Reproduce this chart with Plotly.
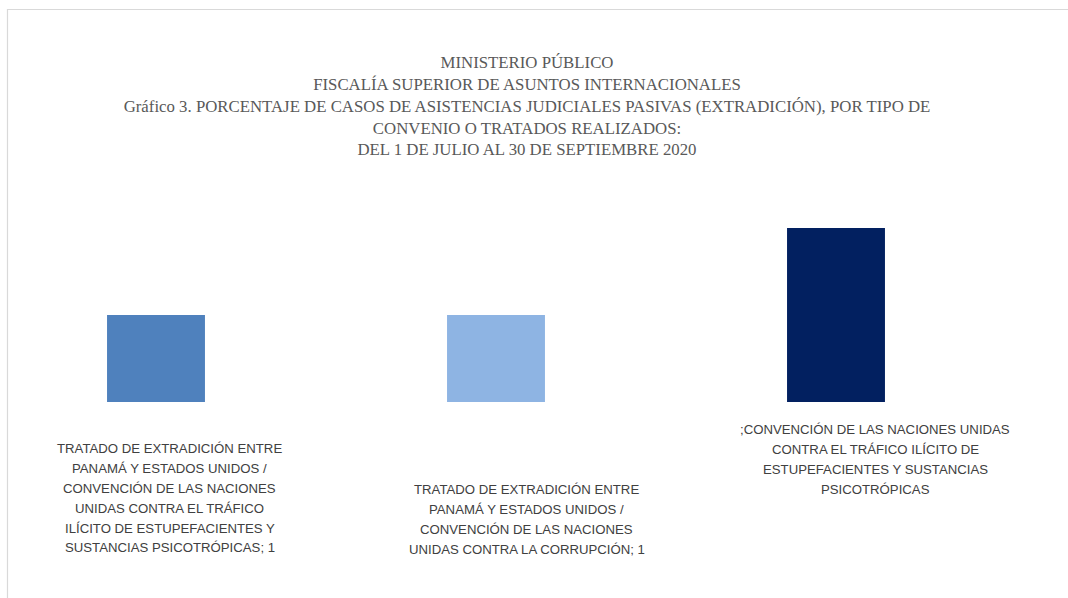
import plotly.graph_objects as go

# ---- data ----
categories = [
    "TRATADO DE EXTRADICIÓN ENTRE PANAMÁ Y ESTADOS UNIDOS / CONVENCIÓN DE LAS NACIONES UNIDAS CONTRA EL TRÁFICO ILÍCITO DE ESTUPEFACIENTES Y SUSTANCIAS PSICOTRÓPICAS",
    "TRATADO DE EXTRADICIÓN ENTRE PANAMÁ Y ESTADOS UNIDOS / CONVENCIÓN DE LAS NACIONES UNIDAS CONTRA LA CORRUPCIÓN",
    "CONVENCIÓN DE LAS NACIONES UNIDAS CONTRA EL TRÁFICO ILÍCITO DE ESTUPEFACIENTES Y SUSTANCIAS PSICOTRÓPICAS",
]
values = [1, 1, 2]
label_lines = [
    ["TRATADO DE EXTRADICIÓN ENTRE", "PANAMÁ Y ESTADOS UNIDOS /", "CONVENCIÓN DE LAS NACIONES",
     "UNIDAS CONTRA EL TRÁFICO", "ILÍCITO DE ESTUPEFACIENTES Y", "SUSTANCIAS PSICOTRÓPICAS; 1"],
    ["TRATADO DE EXTRADICIÓN ENTRE", "PANAMÁ Y ESTADOS UNIDOS /", "CONVENCIÓN DE LAS NACIONES",
     "UNIDAS CONTRA LA CORRUPCIÓN; 1"],
    [";CONVENCIÓN DE LAS NACIONES UNIDAS", "CONTRA EL TRÁFICO ILÍCITO DE",
     "ESTUPEFACIENTES Y SUSTANCIAS", "PSICOTRÓPICAS"],
]
title_lines = [
    "MINISTERIO PÚBLICO",
    "FISCALÍA SUPERIOR DE ASUNTOS INTERNACIONALES",
    "Gráfico 3. PORCENTAJE DE CASOS DE ASISTENCIAS JUDICIALES PASIVAS (EXTRADICIÓN), POR TIPO DE",
    "CONVENIO O TRATADOS REALIZADOS:",
    "DEL 1 DE JULIO AL 30 DE SEPTIEMBRE 2020",
]
bar_colors = ["#4F81BD", "#8EB4E3", "#022060"]

# ---- layout geometry (pixels) ----
W, H = 1068, 598
ML, MR, MT, MB = 20, 40, 190, 196
plot_w = W - ML - MR
plot_h = H - MT - MB
X_RANGE = [-0.4, 2.5647]
Y_RANGE = [0, plot_h / 87.0]
LABEL_LINE_PX = 19.8

x_idx = list(range(len(categories)))

fig = go.Figure()
fig.add_trace(go.Bar(
    x=x_idx, y=values,
    width=0.288,
    marker=dict(color=bar_colors, line=dict(width=0)),
    hovertext=categories,
    hoverinfo="text+y",
))

# data labels positioned (offsets relative to each bar, in data units)
label_dx = [0.041, 0.091, 0.115]
label_dy = [-1.109, -1.351, -0.661]


def data_to_paper_x(xv):
    return (xv - X_RANGE[0]) / (X_RANGE[1] - X_RANGE[0])


def data_to_paper_y(yv):
    return (yv - Y_RANGE[0]) / (Y_RANGE[1] - Y_RANGE[0])


line_step = LABEL_LINE_PX / plot_h
for i, lines in enumerate(label_lines):
    cx = data_to_paper_x(x_idx[i] + label_dx[i])
    cy = data_to_paper_y(label_dy[i])
    n = len(lines)
    for j, line in enumerate(lines):
        fig.add_annotation(
            x=cx, y=cy + ((n - 1) / 2 - j) * line_step,
            xref="paper", yref="paper",
            text=line, showarrow=False, align="center",
            xanchor="center", yanchor="middle",
            font=dict(family="Liberation Sans, Arial, sans-serif", size=13.2, color="#404040"),
        )


# chart-area border (light gray)
def px_to_paper_x(px):
    return (px - ML) / plot_w


def px_to_paper_y(py):
    return (H - MB - py) / plot_h


fig.add_shape(
    type="rect", xref="paper", yref="paper",
    x0=px_to_paper_x(7.5), x1=px_to_paper_x(1075),
    y0=px_to_paper_y(605), y1=px_to_paper_y(9.5),
    line=dict(color="#D9D9D9", width=1.2), fillcolor="rgba(0,0,0,0)", layer="below",
)

fig.update_layout(
    width=W, height=H,
    margin=dict(l=ML, r=MR, t=MT, b=MB, pad=0),
    paper_bgcolor="white", plot_bgcolor="white",
    showlegend=False,
    title=dict(
        text="<br>".join(title_lines),
        xref="container", x=527 / W, xanchor="center",
        yref="container", y=1 - 68 / H, yanchor="top",
        font=dict(family="Liberation Serif, Times New Roman, serif", size=16.8, color="#595959"),
    ),
    xaxis=dict(visible=False, range=X_RANGE, fixedrange=True),
    yaxis=dict(visible=False, range=Y_RANGE, fixedrange=True),
)

fig.write_html("out.html")
